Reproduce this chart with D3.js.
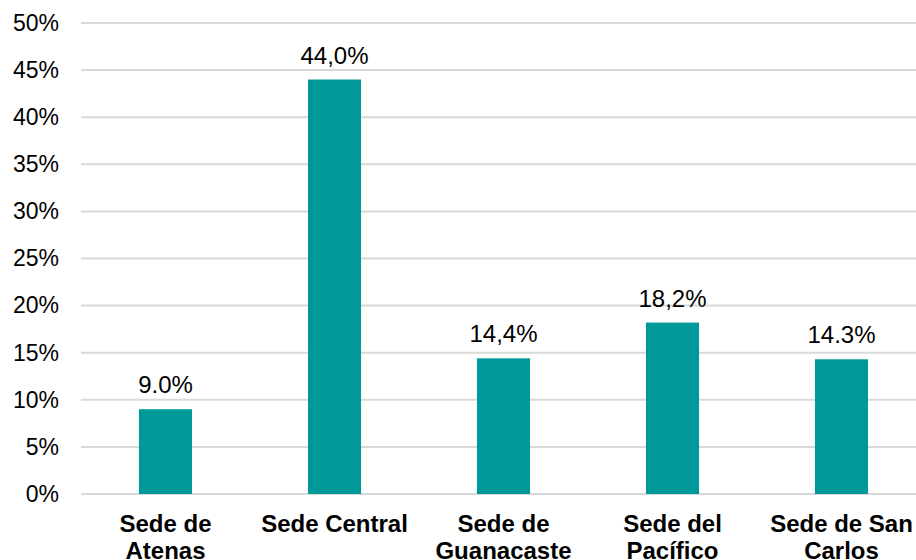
<!DOCTYPE html>
<html lang="es">
<head>
    <meta charset="UTF-8">
    <title>Sedes</title>
    <script src="https://d3js.org/d3.v7.min.js"></script>
    <style>
        body { margin: 0; background: #fff; }
        text { font-family: "Liberation Sans", Arial, sans-serif; fill: #000; }
    </style>
</head>
<body>
    <svg id="chart" width="916" height="560"></svg>

    <script>
        const sedes = [["Sede de", "Atenas"], ["Sede Central"], ["Sede de", "Guanacaste"], ["Sede del", "Pacífico"], ["Sede de San", "Carlos"]];
        const valores = [9.0, 44.0, 14.4, 18.2, 14.3];
        const etiquetas = ["9.0%", "44,0%", "14,4%", "18,2%", "14.3%"];
        const ticks = [0, 5, 10, 15, 20, 25, 30, 35, 40, 45, 50];

        const svg = d3.select("#chart");
        const idx = d3.range(valores.length);

        const x = d3.scaleBand()
                    .domain(idx)
                    .range([81, 926])
                    .paddingInner(0.686)
                    .paddingOuter(0.343);

        const y = d3.scaleLinear()
                    .domain([0, 50])
                    .range([494, 23]);

        // grid lines
        svg.append("g")
            .selectAll("line")
            .data(ticks)
            .enter().append("line")
            .attr("x1", 81)
            .attr("x2", 916)
            .attr("y1", d => y(d))
            .attr("y2", d => y(d))
            .attr("stroke", "#d9d9d9")
            .attr("stroke-width", 2);

        // y axis labels
        const yAxis = svg.append("g")
            .attr("transform", "translate(65,0)")
            .call(d3.axisLeft(y).tickValues(ticks).tickSize(0).tickPadding(6).tickFormat(d => d + "%"));
        yAxis.select(".domain").remove();
        yAxis.selectAll("text")
            .style("font-size", "23px")
            .attr("fill", "#000");

        svg.selectAll(".bar")
            .data(idx)
            .enter().append("rect")
            .attr("class", "bar")
            .attr("x", i => x(i))
            .attr("width", x.bandwidth())
            .attr("y", i => y(valores[i]))
            .attr("height", i => y(0) - y(valores[i]))
            .attr("fill", "#009999");

        svg.selectAll(".valor")
            .data(idx)
            .enter().append("text")
            .attr("class", "valor")
            .attr("x", i => x(i) + x.bandwidth() / 2)
            .attr("y", i => y(valores[i]) - 16)
            .attr("text-anchor", "middle")
            .style("font-size", "24px")
            .text(i => etiquetas[i]);

        const cat = svg.selectAll(".cat")
            .data(idx)
            .enter().append("text")
            .attr("class", "cat")
            .attr("x", i => x(i) + x.bandwidth() / 2)
            .attr("y", 532)
            .attr("text-anchor", "middle")
            .style("font-size", "24px")
            .style("font-weight", "bold");

        cat.selectAll("tspan")
            .data(i => sedes[i])
            .enter().append("tspan")
            .attr("x", function() { return d3.select(this.parentNode).attr("x"); })
            .attr("dy", (d, j) => j === 0 ? 0 : 27)
            .text(d => d);
    </script>
</body>
</html>
